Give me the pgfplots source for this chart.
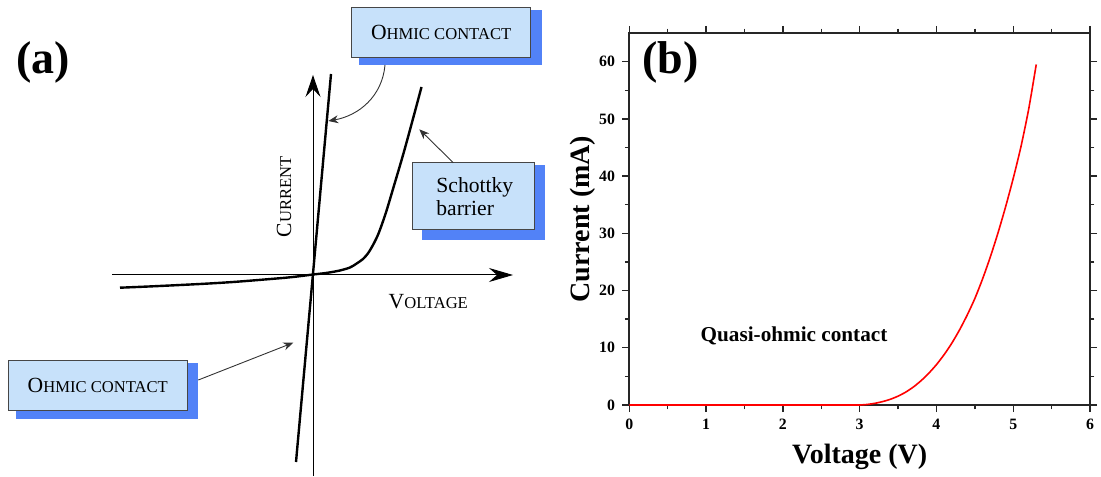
\documentclass[border=0pt]{standalone}
\usepackage{fontspec}
\setmainfont{Liberation Serif}
\usepackage{pgfplots}
\pgfplotsset{compat=1.18}
\usetikzlibrary{arrows.meta}

\definecolor{boxfill}{RGB}{199,225,250}
\definecolor{boxshadow}{RGB}{82,130,247}
\definecolor{boxline}{RGB}{70,70,70}
\definecolor{annot}{RGB}{50,50,50}
% hand-made small capitals: full-size initial, reduced capitals after it
\newcommand{\fsc}[2]{#1{\fontsize{8.3}{10}\selectfont #2}}

\begin{document}
\begin{tikzpicture}
\useasboundingbox (0,0) rectangle (550.5pt,238pt);

% ---------------- (a) schematic I-V characteristics ----------------
\begin{axis}[at={(0pt,0pt)}, anchor=south west, scale only axis,
  width=280pt, height=238pt,
  xmin=-313, xmax=247, ymin=-201, ymax=275,
  hide axis, clip=false]

  % voltage and current axes
  \draw[line width=0.5pt, -{Stealth[length=12pt,width=7pt,inset=4pt]}]
    (axis cs:-201,0) -- (axis cs:200,0);
  \draw[line width=0.5pt, -{Stealth[length=11pt,width=7.5pt,inset=4pt]}]
    (axis cs:0,-201) -- (axis cs:0,200);

  % ohmic contact: straight line through the origin
  \addplot[black, line width=1.2pt] coordinates {(-17,-187) (18,201)};

  % Schottky barrier: rectifying characteristic
  \addplot[black, line width=1.2pt, smooth, tension=0.5] coordinates {
    (-193,-12.7) (-160,-11.3) (-113,-9) (-80,-7) (-46,-4.3) (-25,-2.5)
    (-10,-0.8) (0,0.5) (13,2) (26,4.3) (37,7.5) (44,11.7) (50,16)
    (55,21.7) (60,30) (65.6,41.7) (72.7,61.7) (80,86) (90.6,122)
    (101,160) (108.5,188)};

  % axis captions
  \node[font=\fontsize{10.8}{13}\selectfont, anchor=base] at (axis cs:115.3,-33.3)
    {\fsc{V}{OLTAGE}};
  \node[font=\fontsize{10.8}{13}\selectfont, rotate=90] at (axis cs:-29,78.3)
    {\fsc{C}{URRENT}};

  % callout boxes with drop shadows
  \fill[boxshadow] (axis cs:46,210) rectangle (axis cs:228.7,265);
  \filldraw[fill=boxfill, draw=boxline, line width=0.5pt]
    (axis cs:38.7,217.7) rectangle (axis cs:217.7,267.7);
  \node[font=\fontsize{10.8}{13}\selectfont] at (axis cs:128.2,242.7)
    {\fsc{O}{HMIC CONTACT}};

  \fill[boxshadow] (axis cs:108.7,35) rectangle (axis cs:232,110);
  \filldraw[fill=boxfill, draw=boxline, line width=0.5pt]
    (axis cs:99.7,45) rectangle (axis cs:221,112.3);
  \node[font=\fontsize{10.8}{11.5}\selectfont, anchor=west, align=left, inner sep=0pt]
    at (axis cs:123,78.7) {Schottky\\barrier};

  \fill[boxshadow] (axis cs:-297,-144) rectangle (axis cs:-114.7,-87.7);
  \filldraw[fill=boxfill, draw=boxline, line width=0.5pt]
    (axis cs:-304.7,-135.7) rectangle (axis cs:-125.7,-85.7);
  \node[font=\fontsize{10.8}{13}\selectfont] at (axis cs:-215.2,-110.7)
    {\fsc{O}{HMIC CONTACT}};

  % pointers from the callouts
  \draw[annot, line width=0.45pt, -{Stealth[length=5pt,width=4pt]}]
    (axis cs:72,210) to[out=-95,in=10] (axis cs:15.3,154);
  \draw[annot, line width=0.45pt, -{Stealth[length=5pt,width=4pt]}]
    (axis cs:140.3,112.3) -- (axis cs:106.3,145.7);
  \draw[annot, line width=0.45pt, -{Stealth[length=5pt,width=4pt]}]
    (axis cs:-114.7,-105) -- (axis cs:-19.7,-67.7);
\end{axis}

\node[font=\bfseries\fontsize{23}{26}\selectfont] at (21.5pt,207pt) {(a)};

% ---------------- (b) measured I-V curve ----------------
\begin{axis}[at={(314.65pt,35.5pt)}, anchor=south west, scale only axis,
  width=230.35pt, height=186pt,
  xmin=0, xmax=6, ymin=0, ymax=65,
  xtick={0,1,...,6}, ytick={0,10,...,60},
  minor x tick num=1, minor y tick num=1,
  tick align=outside, tick pos=both,
  major tick length=3.6pt, minor tick length=2.2pt,
  axis line style={line width=0.9pt, black!85},
  every tick/.append style={line width=0.7pt, black!85},
  /pgf/number format/assume math mode=true,
  ticklabel style={font=\bfseries\fontsize{7.9}{9}\selectfont},
  xlabel={Voltage (V)}, ylabel={Current (mA)},
  label style={font=\bfseries\fontsize{14}{16}\selectfont},
  ylabel style={at={(axis description cs:-0.1005,0.5)}, anchor=center},
  clip=false]

  \addplot[red, line width=0.8pt, smooth, tension=0.4] coordinates {
    (0,0) (1,0) (2,0) (2.9,0) (3.0,0) (3.1,0.1) (3.2,0.3) (3.3,0.6)
    (3.4,1.0) (3.5,1.55) (3.6,2.25) (3.7,3.15) (3.8,4.25) (3.9,5.55)
    (4.0,7.05) (4.1,8.8) (4.2,10.8) (4.3,13.1) (4.4,15.7) (4.5,18.6)
    (4.6,22.0) (4.7,25.8) (4.8,30.0) (4.9,34.6) (5.0,39.6) (5.1,45.1)
    (5.2,51.6) (5.3,59.5)};

  \node[font=\bfseries\fontsize{10.6}{12}\selectfont] at (axis cs:2.145,12.06)
    {Quasi-ohmic contact};
  \node[font=\bfseries\fontsize{23}{26}\selectfont] at (axis cs:0.54,59.9) {(b)};
\end{axis}
\end{tikzpicture}
\end{document}
